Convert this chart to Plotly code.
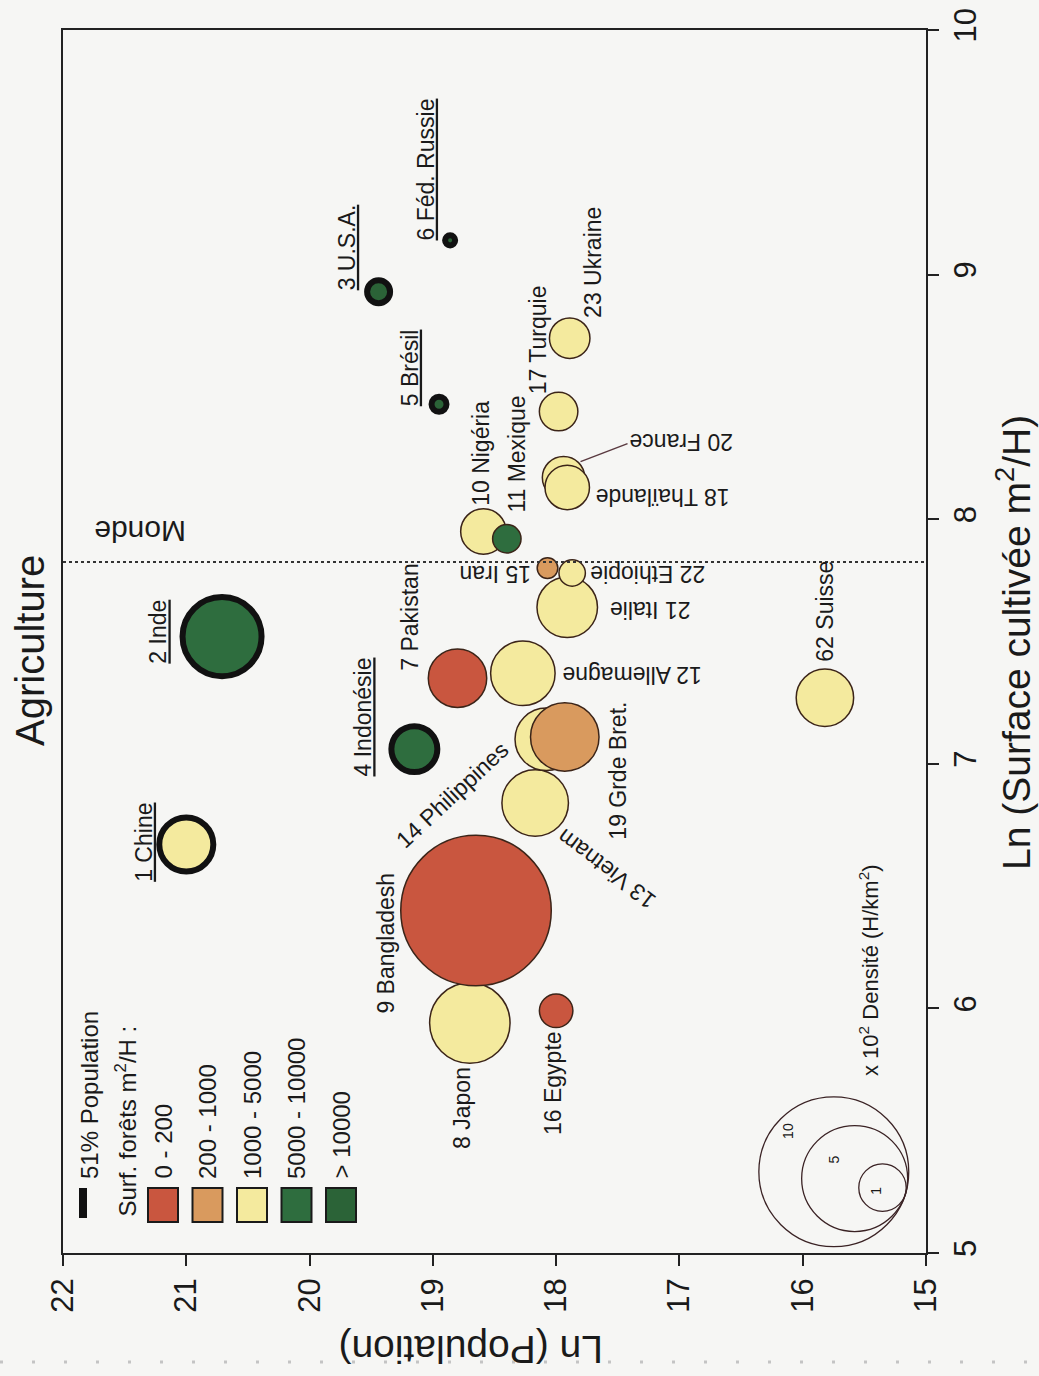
import plotly.graph_objects as go

# ---------------- data ----------------
rank = [1, 2, 3, 4, 5, 6, 7, 8, 9, 10, 11, 12, 13, 14, 15, 16, 17, 20, 18, 19, 21, 22, 23, 62]
country = ["Chine", "Inde", "U.S.A.", "Indonésie", "Brésil", "Féd. Russie", "Pakistan", "Japon",
           "Bangladesh", "Nigéria", "Mexique", "Allemagne", "Vietnam", "Philippines", "Iran",
           "Egypte", "Turquie", "France", "Thaïlande", "Grde Bret.", "Italie", "Ethiopie",
           "Ukraine", "Suisse"]
ln_population = [21.00, 20.71, 19.44, 19.15, 18.95, 18.86, 18.80, 18.70, 18.65, 18.59, 18.40, 18.27,
                 18.17, 18.08, 18.07, 18.00, 17.98, 17.94, 17.91, 17.93, 17.91, 17.87, 17.89, 15.82]
ln_surface = [6.67, 7.52, 8.93, 7.06, 8.47, 9.14, 7.35, 5.94, 6.40, 7.95, 7.92, 7.37,
              6.84, 7.10, 7.80, 5.99, 8.44, 8.17, 8.13, 7.11, 7.64, 7.78, 8.74, 7.27]
# density in hundreds of inhabitants per km2
density_x100 = [1.30, 2.78, 0.235, 0.94, 0.10, 0.045, 1.52, 2.88, 10.08, 0.92, 0.36, 1.85,
                1.97, 1.74, 0.19, 0.50, 0.66, 0.80, 0.88, 2.09, 1.63, 0.31, 0.73, 1.47]
# forest area class index (see forest_classes)
forest_class = [2, 3, 4, 3, 4, 4, 0, 2, 0, 2, 3, 2, 2, 2, 1, 0, 2, 2, 2, 1, 2, 2, 2, 2]
# countries that together hold 51% of world population
half_population = [True, True, True, True, True, True] + [False] * 18

forest_classes = ["0 - 200", "200 - 1000", "1000 - 5000", "5000 - 10000", "> 10000"]
world_ln_surface = 7.825
density_legend = [10, 5, 1]

x_ticks = [22, 21, 20, 19, 18, 17, 16, 15]
y_ticks = [5, 6, 7, 8, 9, 10]

# ---------------- styling ----------------
FONT = "Liberation Sans, Arial, Helvetica, sans-serif"
INK = "#1a1a1a"
BG = "#f6f6f4"
CLASS_COLORS = ["#c9563f", "#d99a5e", "#f4ea9e", "#2e6d3e", "#2b6337"]
K = 23.7                       # px radius for a density of 1 (x100 H/km2)
SIZEREF = 1.0 / (2 * K * K)    # plotly area mode: r = sqrt(v / (2*sizeref))

W, H = 1039, 1376
L, R, T, B = 63, 926, 30, 1253


def px_x(px):
    return (px - L) / (R - L)


def px_y(py):
    return (B - py) / (B - T)


# label placement: screen offset of label centre from bubble centre (dx, dy down), angle
label_layout = {
    "Chine": (-43, -2, -90), "Inde": (-64, -5, -90), "U.S.A.": (-32, -44, -90),
    "Indonésie": (-51, -32, -90), "Brésil": (-29, -36, -90), "Féd. Russie": (-24, -71, -90),
    "Pakistan": (-47, -61, -90), "Japon": (-8, 85, -90), "Bangladesh": (-90, 33, -90),
    "Nigéria": (-2, -78, -90), "Mexique": (10, -85, -90), "Allemagne": (109, 1, 180),
    "Vietnam": (71, 66, -143), "Philippines": (-94, 56, -43), "Iran": (-52, 6, 180),
    "Egypte": (-3, 72, -90), "Turquie": (-21, -72, -90), "France": (118, -35, 180),
    "Thaïlande": (95, 9, 180), "Grde Bret.": (53, 34, -90), "Italie": (83, 2, 180),
    "Ethiopie": (76, 1, 180), "Ukraine": (23, -76, -90), "Suisse": (0, -87, -90),
}

fig = go.Figure()

fig.add_trace(go.Scatter(
    x=ln_population, y=ln_surface, mode="markers",
    marker=dict(
        size=density_x100, sizemode="area", sizeref=SIZEREF,
        color=[CLASS_COLORS[c] for c in forest_class],
        line=dict(width=[6 if h else 1.5 for h in half_population],
                  color=["#111111" if h else "#3b2418" for h in half_population]),
        opacity=1,
    ),
    hoverinfo="skip", showlegend=False,
))

annotations = []
shapes = []

# country labels
for rk, name, xv, yv, h in zip(rank, country, ln_population, ln_surface, half_population):
    dx, dy, ang = label_layout[name]
    txt = f"{rk} {name}"
    if h:
        txt = f"<u>{txt}</u>"
    annotations.append(dict(
        x=xv, y=yv, xref="x", yref="y", text=txt, showarrow=False,
        xshift=dx, yshift=-dy, textangle=ang, xanchor="center", yanchor="middle",
        font=dict(family=FONT, size=23, color=INK),
    ))

# leader line for France
fi = country.index("France")
shapes.append(dict(
    type="line", xref="x", yref="y", xsizemode="pixel", ysizemode="pixel",
    xanchor=ln_population[fi], yanchor=ln_surface[fi],
    x0=17, y0=16, x1=64, y1=34, line=dict(color="#5a3a40", width=1.5),
))

# world average line
shapes.append(dict(
    type="line", xref="paper", yref="y", x0=0, x1=1,
    y0=world_ln_surface, y1=world_ln_surface,
    line=dict(color="#333333", width=2, dash="dot"),
))
annotations.append(dict(
    x=px_x(140), y=world_ln_surface, xref="paper", yref="y", yshift=30,
    text="Monde", showarrow=False, textangle=180,
    xanchor="center", yanchor="middle", font=dict(family=FONT, size=30, color=INK),
))

# title and axis titles
annotations.append(dict(
    x=px_x(30), y=px_y(651), xref="paper", yref="paper", text="Agriculture",
    showarrow=False, textangle=-90, xanchor="center", yanchor="middle",
    font=dict(family=FONT, size=40, color=INK),
))
annotations.append(dict(
    x=px_x(471), y=px_y(1350), xref="paper", yref="paper", text="Ln (Population)",
    showarrow=False, textangle=180, xanchor="center", yanchor="middle",
    font=dict(family=FONT, size=39, color=INK),
))
annotations.append(dict(
    x=px_x(1013), y=px_y(642), xref="paper", yref="paper",
    text="Ln (Surface cultivée m<sup>2</sup>/H)",
    showarrow=False, textangle=-90, xanchor="center", yanchor="middle",
    font=dict(family=FONT, size=39, color=INK),
))

# forest legend
shapes.append(dict(type="rect", xref="paper", yref="paper",
                   x0=px_x(79), x1=px_x(87), y0=px_y(1218), y1=px_y(1188),
                   fillcolor="#111111", line=dict(width=0)))
annotations.append(dict(
    x=px_x(89), y=px_y(1181), xref="paper", yref="paper", text="51% Population",
    showarrow=False, textangle=-90, xanchor="center", yanchor="bottom",
    font=dict(family=FONT, size=24, color=INK),
))
annotations.append(dict(
    x=px_x(125), y=px_y(1219), xref="paper", yref="paper",
    text="Surf. forêts m<sup>2</sup>/H :",
    showarrow=False, textangle=-90, xanchor="center", yanchor="bottom",
    font=dict(family=FONT, size=24, color=INK),
))
for i, (lab, col) in enumerate(zip(forest_classes, CLASS_COLORS)):
    cx = 163 + i * 44.5
    shapes.append(dict(type="rect", xref="paper", yref="paper",
                       x0=px_x(cx - 15), x1=px_x(cx + 15), y0=px_y(1222), y1=px_y(1188),
                       fillcolor=col, line=dict(color="#1a1a1a", width=2)))
    annotations.append(dict(
        x=px_x(cx), y=px_y(1181), xref="paper", yref="paper", text=lab,
        showarrow=False, textangle=-90, xanchor="center", yanchor="bottom",
        font=dict(family=FONT, size=24, color=INK),
    ))

# density legend: nested circles touching at one point
tx, ty = 905, 1195
ux, uy = 0.95, 0.31
label_pos = {10: (-0.62, -0.55), 5: (-0.38, -0.35), 1: (-0.25, 0.15)}
for d in density_legend:
    r = K * d ** 0.5
    cx, cy = tx - r * ux, ty - r * uy
    shapes.append(dict(type="circle", xref="paper", yref="paper",
                       x0=px_x(cx - r), x1=px_x(cx + r), y0=px_y(cy + r), y1=px_y(cy - r),
                       line=dict(color="#3a2224", width=1.3)))
    fx, fy = label_pos[d]
    annotations.append(dict(
        x=px_x(cx + fx * r), y=px_y(cy + fy * r), xref="paper", yref="paper",
        text=str(d), showarrow=False, textangle=-90, xanchor="center", yanchor="middle",
        font=dict(family=FONT, size=14, color=INK),
    ))
annotations.append(dict(
    x=px_x(869), y=px_y(970), xref="paper", yref="paper",
    text="x 10<sup>2</sup> Densité (H/km<sup>2</sup>)",
    showarrow=False, textangle=-90, xanchor="center", yanchor="middle",
    font=dict(family=FONT, size=22, color=INK),
))

# faint dotted rule along the bottom of the page
shapes.append(dict(type="line", xref="paper", yref="paper",
                   x0=px_x(0), x1=px_x(W), y0=px_y(1362), y1=px_y(1362),
                   line=dict(color="#c4c4c4", width=3, dash="3px,29px")))

axis_common = dict(
    showgrid=False, zeroline=False, showline=True, mirror=True,
    linecolor="#222222", linewidth=1.5,
    ticks="outside", ticklen=11, tickwidth=1.5, tickcolor="#222222",
    tickangle=-90, tickfont=dict(family=FONT, size=31, color=INK),
)

fig.update_layout(
    width=W, height=H,
    margin=dict(l=L, r=W - R, t=T, b=H - B, autoexpand=False),
    paper_bgcolor=BG, plot_bgcolor=BG,
    xaxis=dict(range=[22, 15], tickvals=x_ticks, ticktext=[str(v) for v in x_ticks], **axis_common),
    yaxis=dict(range=[5, 10], side="right", tickvals=y_ticks,
               ticktext=[str(v) for v in y_ticks], **axis_common),
    annotations=annotations, shapes=shapes,
    showlegend=False,
)

fig.write_html("out.html")
